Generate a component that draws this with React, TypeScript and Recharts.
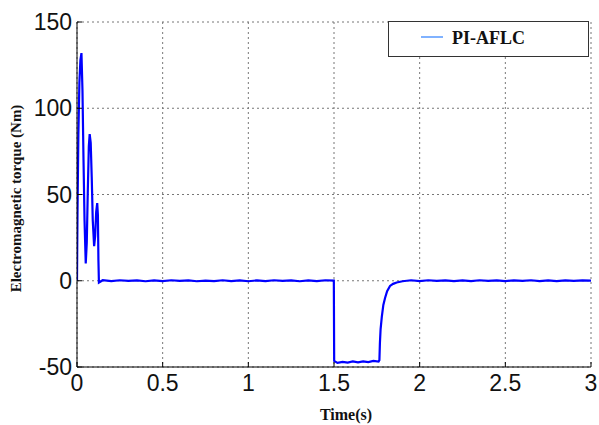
import React from 'react';
import { LineChart, Line, XAxis, YAxis, CartesianGrid, Legend } from 'recharts';

// time (s) and electromagnetic torque (Nm)
const timeS = [
  0, 0.003, 0.008, 0.014, 0.02, 0.026, 0.032, 0.038, 0.044, 0.051, 0.057, 0.063, 0.069, 0.074, 0.08,
  0.086, 0.092, 0.1, 0.106, 0.112, 0.118, 0.122, 0.125, 0.128,
  0.15, 0.2, 0.25, 0.3, 0.35, 0.4, 0.45, 0.5, 0.55, 0.6, 0.65, 0.7, 0.75, 0.8, 0.85, 0.9, 0.95,
  1.0, 1.05, 1.1, 1.15, 1.2, 1.25, 1.3, 1.35, 1.4, 1.45, 1.499,
  1.501, 1.52, 1.55, 1.58, 1.61, 1.64, 1.67, 1.7, 1.73, 1.76, 1.765,
  1.768, 1.772, 1.779, 1.788, 1.798, 1.81, 1.827, 1.845, 1.866, 1.9,
  1.95, 2.0, 2.05, 2.1, 2.15, 2.2, 2.25, 2.3, 2.35, 2.4, 2.45, 2.5, 2.55, 2.6, 2.65, 2.7, 2.75,
  2.8, 2.85, 2.9, 2.95, 3.0,
];
const torqueNm = [
  0, 40, 85, 115, 128, 132, 110, 70, 35, 10, 22, 52, 78, 85, 80,
  60, 35, 20, 26, 40, 45, 38, 12, -1,
  0.3, -0.2, 0.3, -0.1, 0.2, -0.3, 0.2, -0.2, 0.3, -0.1, 0.2, -0.3, 0.1, -0.2, 0.3, -0.2, 0.2,
  -0.3, 0.2, -0.2, 0.3, -0.1, 0.2, -0.3, 0.2, -0.2, 0.3, 0.1,
  -46.5, -47.6, -47, -47.4, -46.8, -47.3, -46.7, -47.2, -46.5, -46.8, -46,
  -36, -28, -21, -14, -10, -6, -3, -1.8, -1, -0.3,
  0.3, -0.2, 0.3, -0.1, 0.2, -0.2, 0.2, -0.2, 0.3, -0.1, 0.2, -0.2, 0.2, -0.1, 0.3, -0.2, 0.2,
  -0.2, 0.2, -0.1, 0.2, 0.1,
];
const xTicks = [0, 0.5, 1, 1.5, 2, 2.5, 3];
const yTicks = [-50, 0, 50, 100, 150];

const data = timeS.map((t, i) => ({ t, torque: torqueNm[i] }));

const tickFont = { fontSize: 23, fill: '#111', fontFamily: '"Liberation Sans", Arial, sans-serif' };
const labelFont = '"Liberation Serif", "Times New Roman", serif';

const LegendBox = () => (
  <div
    style={{
      width: 201, height: 36, boxSizing: 'border-box', border: '1px solid #333', background: '#fff',
      position: 'relative', fontFamily: labelFont, fontWeight: 'bold', fontSize: 18, color: '#111',
    }}
  >
    <svg width={24} height={4} style={{ position: 'absolute', left: 32, top: 13 }}>
      <line x1={0} y1={2} x2={22} y2={2} stroke="#2a7fff" strokeWidth={1.2} />
    </svg>
    <span style={{ position: 'absolute', left: 63, top: 5, lineHeight: '22px' }}>PI-AFLC</span>
  </div>
);

export default function App() {
  return (
    <div style={{ position: 'absolute', left: 0, top: 0, background: '#fff' }}>
      <LineChart width={599} height={425} data={data} margin={{ top: 22, right: 8, bottom: 0, left: 0 }}>
        <CartesianGrid stroke="#777" strokeDasharray="2 3" />
        <XAxis
          dataKey="t" type="number" domain={[0, 3]} ticks={xTicks} allowDataOverflow
          height={58} tickSize={-5} tickMargin={13} tick={tickFont}
          axisLine={{ stroke: '#000' }} tickLine={{ stroke: '#000' }}
          label={{
            content: (p: any) => (
              <text x={p.viewBox.x + p.viewBox.width / 2 + 12} y={p.viewBox.y + 53} textAnchor="middle"
                fontFamily={labelFont} fontWeight="bold" fontSize={16} fill="#111">Time(s)</text>
            ),
          }}
        />
        <XAxis
          xAxisId="top" orientation="top" type="number" domain={[0, 3]} ticks={xTicks} allowDataOverflow
          height={0} tickSize={-5} tick={() => <g />} axisLine={{ stroke: '#000' }} tickLine={{ stroke: '#000' }}
        />
        <YAxis
          type="number" domain={[-50, 150]} ticks={yTicks} allowDataOverflow
          width={77} tickSize={-5} tickMargin={10} tick={tickFont}
          axisLine={{ stroke: '#000' }} tickLine={{ stroke: '#000' }}
          label={{
            content: (p: any) => {
              const cx = 16;
              const cy = p.viewBox.y + p.viewBox.height / 2 + 4;
              return (
                <text x={cx} y={cy} transform={`rotate(-90 ${cx} ${cy})`} textAnchor="middle" dominantBaseline="central"
                  fontFamily={labelFont} fontWeight="bold" fontSize={15} fill="#111">
                  Electromagnetic torque (Nm)
                </text>
              );
            },
          }}
        />
        <YAxis
          yAxisId="right" orientation="right" type="number" domain={[-50, 150]} ticks={yTicks} allowDataOverflow
          width={0} tickSize={-5} tick={() => <g />} axisLine={{ stroke: '#000' }} tickLine={{ stroke: '#000' }}
        />
        <Legend
          layout="vertical" align="center" verticalAlign="middle"
          wrapperStyle={{ left: 388, top: 21, width: 201, height: 36 }}
          content={() => <LegendBox />}
        />
        <Line dataKey="torque" stroke="#0000ff" strokeWidth={2.2} dot={false} type="linear" isAnimationActive={false} />
      </LineChart>
    </div>
  );
}
